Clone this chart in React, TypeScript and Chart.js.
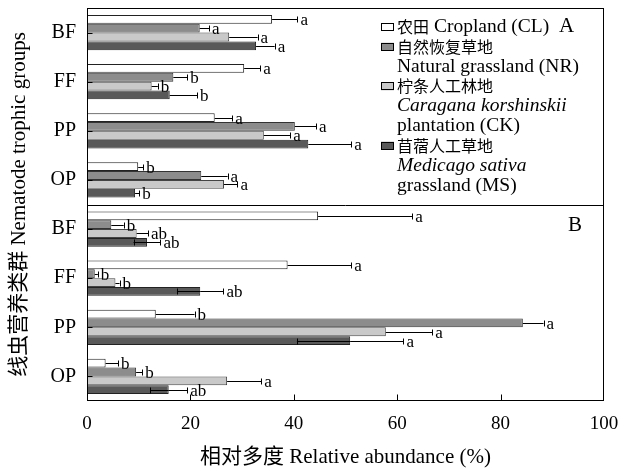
import React, { useEffect, useRef } from 'react';
import { Chart, registerables } from 'chart.js';

Chart.register(...registerables);

// ---------- data ----------
const categories = ['BF', 'FF', 'PP', 'OP'];
const xTickValues = [0, 20, 40, 60, 80, 100];

// Panel A (BF, FF, PP, OP)
const clA = [35.8, 30.4, 24.7, 9.9];
const nrA = [21.8, 16.7, 40.2, 22.1];
const ckA = [27.5, 12.5, 34.2, 26.5];
const msA = [32.7, 16.0, 42.8, 9.3];
const clAErr = [4.9, 3.1, 3.4, 1.0];
const nrAErr = [1.8, 2.7, 4.1, 5.1];
const ckAErr = [5.5, 1.2, 5.1, 2.6];
const msAErr = [3.6, 5.3, 8.3, 0.8];
const clALetters = ['a', 'a', 'a', 'b'];
const nrALetters = ['a', 'b', 'a', 'a'];
const ckALetters = ['a', 'b', 'a', 'a'];
const msALetters = ['a', 'b', 'a', 'b'];

// Panel B (BF, FF, PP, OP)
const clB = [44.7, 38.8, 13.3, 3.6];
const nrB = [4.7, 1.5, 84.3, 9.5];
const ckB = [9.6, 5.5, 57.8, 27.1];
const msB = [11.6, 21.9, 50.9, 15.8];
const clBErr = [18.2, 12.3, 7.5, 2.4];
const nrBErr = [2.4, 0.6, 4.0, 1.2];
const ckBErr = [2.2, 0.8, 9.0, 6.6];
const msBErr = [2.6, 4.5, 10.3, 3.6];
const clBLetters = ['a', 'a', 'b', 'b'];
const nrBLetters = ['b', 'b', 'a', 'b'];
const ckBLetters = ['ab', 'b', 'a', 'a'];
const msBLetters = ['ab', 'ab', 'a', 'ab'];

// legend: [Chinese part, Latin part, italic, box index]
const legendLines: [string, string, boolean, number][] = [
  ['农田', ' Cropland (CL)', false, 0],
  ['自然恢复草地', '', false, 1],
  ['', 'Natural grassland (NR)', false, -1],
  ['柠条人工林地', '', false, 2],
  ['', 'Caragana korshinskii', true, -1],
  ['', 'plantation (CK)', false, -1],
  ['苜蓿人工草地', '', false, 3],
  ['', 'Medicago sativa', true, -1],
  ['', 'grassland (MS)', false, -1],
];

const FONT = '"Liberation Serif", "Noto Sans CJK SC", serif';
const CJK = '"Noto Sans CJK SC", sans-serif';
const fills = ['#ffffff', '#8c8c8c', '#c9c9c9', '#595959'];
const borders = ['#222222', '#333333', '#444444', '#222222'];

const seriesData = [
  [...clA, ...clB],
  [...nrA, ...nrB],
  [...ckA, ...ckB],
  [...msA, ...msB],
];
const seriesErr = [
  [...clAErr, ...clBErr],
  [...nrAErr, ...nrBErr],
  [...ckAErr, ...ckBErr],
  [...msAErr, ...msBErr],
];
const seriesLetters = [
  [...clALetters, ...clBLetters],
  [...nrALetters, ...nrBLetters],
  [...ckALetters, ...ckBLetters],
  [...msALetters, ...msBLetters],
];
// lower whisker visible only for MS bars in panel B
const lowerWhisker = [
  [false, false, false, false, false, false, false, false],
  [false, false, false, false, false, false, false, false],
  [false, false, false, false, false, false, false, false],
  [false, false, false, false, true, true, true, true],
];

const overlay = {
  id: 'overlay',
  afterDatasetsDraw(chart: any) {
    const ctx = chart.ctx;
    const xs = chart.scales.x;
    const ys = chart.scales.y;
    const ca = chart.chartArea;
    ctx.save();
    ctx.strokeStyle = '#000';
    ctx.lineWidth = 1;
    // error bars + letters
    chart.data.datasets.forEach((ds: any, i: number) => {
      const meta = chart.getDatasetMeta(i);
      meta.data.forEach((bar: any, j: number) => {
        const v = ds.data[j];
        const e = seriesErr[i][j];
        const x0 = xs.getPixelForValue(v);
        const x1 = xs.getPixelForValue(v + e);
        const y = Math.round(bar.y) + 0.5;
        const h = 3;
        ctx.beginPath();
        ctx.moveTo(x0, y);
        ctx.lineTo(x1, y);
        ctx.moveTo(Math.round(x1) + 0.5, y - h);
        ctx.lineTo(Math.round(x1) + 0.5, y + h);
        if (lowerWhisker[i][j]) {
          const xl = xs.getPixelForValue(v - e);
          ctx.moveTo(xl, y);
          ctx.lineTo(x0, y);
          ctx.moveTo(Math.round(xl) + 0.5, y - h);
          ctx.lineTo(Math.round(xl) + 0.5, y + h);
        }
        ctx.stroke();
        ctx.fillStyle = '#000';
        ctx.font = `17px ${FONT}`;
        ctx.textAlign = 'left';
        ctx.textBaseline = 'middle';
        ctx.fillText(seriesLetters[i][j], x1 + 3, y + 1);
      });
    });
    // frame
    const L = Math.round(ca.left) + 0.5;
    const R = Math.round(ca.right) - 0.5;
    const T = Math.round(ca.top) + 0.5;
    const B = Math.round(ca.bottom) - 0.5;
    ctx.strokeStyle = '#000';
    ctx.lineWidth = 1;
    ctx.strokeRect(L, T, R - L, B - T);
    // divider between panels
    const yDiv = Math.round((ys.getPixelForValue(3) + ys.getPixelForValue(4)) / 2) + 0.5;
    ctx.beginPath();
    ctx.moveTo(L, yDiv);
    ctx.lineTo(R, yDiv);
    // inward ticks
    xTickValues.forEach((t) => {
      if (t === 0 || t === 100) return;
      const px = Math.round(xs.getPixelForValue(t)) + 0.5;
      ctx.moveTo(px, B);
      ctx.lineTo(px, B - 6);
    });
    for (let k = 0; k < 8; k++) {
      const py = Math.round(ys.getPixelForValue(k)) + 0.5;
      ctx.moveTo(L, py);
      ctx.lineTo(L + 5, py);
    }
    ctx.stroke();
    // panel letters
    ctx.fillStyle = '#000';
    ctx.font = `21px ${FONT}`;
    ctx.textAlign = 'left';
    ctx.textBaseline = 'middle';
    ctx.fillText('A', 559, 26);
    ctx.fillText('B', 568, 225);
    // legend
    const lx = 381;
    const tx = 397;
    legendLines.forEach(([zh, en, italic, box], k) => {
      const y = 27 + k * 19.8;
      if (box >= 0) {
        ctx.fillStyle = fills[box];
        ctx.fillRect(lx, y - 4, 13, 8);
        ctx.strokeStyle = '#000';
        ctx.strokeRect(lx + 0.5, Math.round(y - 4) + 0.5, 12, 7);
      }
      ctx.fillStyle = '#000';
      ctx.textBaseline = 'middle';
      let x = tx;
      if (zh) {
        ctx.font = `16px ${CJK}`;
        ctx.fillText(zh, x, y);
        x += ctx.measureText(zh).width;
      }
      if (en) {
        ctx.font = `${italic ? 'italic ' : ''}19.5px ${FONT}`;
        ctx.fillText(en, x, y);
      }
    });
    ctx.restore();
  },
};

export default function App() {
  const ref = useRef<HTMLCanvasElement | null>(null);
  useEffect(() => {
    document.body.style.margin = '0';
    const canvas = ref.current;
    if (!canvas) return;
    const chart = new Chart(canvas, {
      type: 'bar',
      data: {
        labels: [...categories, ...categories],
        datasets: seriesData.map((d, i) => ({
          label: ['CL', 'NR', 'CK', 'MS'][i],
          data: d,
          backgroundColor: fills[i],
          borderColor: borders[i],
          borderWidth: 1,
          categoryPercentage: 0.72,
          barPercentage: 1.0,
        })),
      },
      options: {
        indexAxis: 'y',
        animation: false,
        responsive: false,
        maintainAspectRatio: false,
        layout: { padding: { top: 8, right: 0, left: 0, bottom: 0 } },
        plugins: {
          legend: { display: false },
          tooltip: { enabled: false },
        },
        scales: {
          x: {
            type: 'linear',
            min: 0,
            max: 100,
            grid: { display: false, drawTicks: false },
            border: { display: false },
            ticks: {
              stepSize: 20,
              color: '#000',
              font: { family: FONT, size: 19 },
              padding: 12,
            },
            title: {
              display: true,
              text: '相对多度 Relative abundance (%)',
              color: '#000',
              font: { family: FONT, size: 21 },
              padding: { top: 3, bottom: 0 },
            },
            afterFit: (s: any) => {
              s.height = 69;
              s.paddingRight = 14;
              s.paddingLeft = 0;
            },
          },
          y: {
            type: 'category',
            grid: { display: false, drawTicks: false },
            border: { display: false },
            ticks: {
              color: '#000',
              font: { family: FONT, size: 20 },
              padding: 11,
              autoSkip: false,
            },
            title: {
              display: true,
              text: '线虫营养类群 Nematode trophic groups',
              color: '#000',
              font: { family: FONT, size: 21 },
              padding: { top: 7, bottom: 0 },
            },
            afterFit: (s: any) => {
              s.width = 87;
              s.paddingTop = 0;
              s.paddingBottom = 0;
            },
          },
        },
      },
      plugins: [overlay],
    });
    return () => chart.destroy();
  }, []);
  return (
    <div style={{ position: 'absolute', left: 0, top: 0, width: 618, height: 470 }}>
      <canvas ref={ref} width={618} height={470} style={{ width: 618, height: 470 }} />
    </div>
  );
}
